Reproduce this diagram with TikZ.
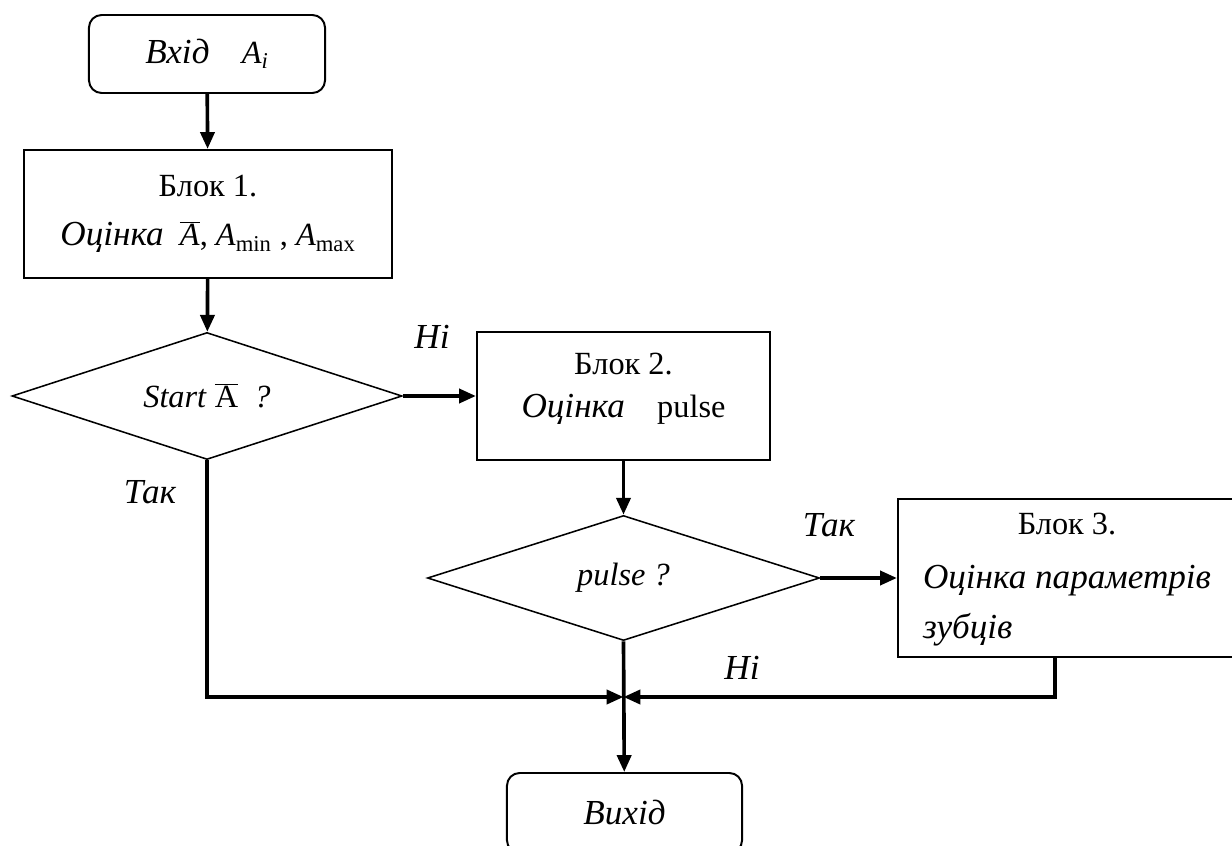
\documentclass[tikz,border=0pt]{standalone}
\usepackage{fontspec}
\setmainfont{Liberation Serif}
\usetikzlibrary{arrows.meta,positioning,calc,shapes.geometric}
\newcommand{\ukit}[1]{{\fontsize{25}{30}\selectfont\itshape #1}}

\begin{document}
\begin{tikzpicture}[x=0.025cm, y=-0.025cm,
  font=\fontsize{23}{29}\selectfont,
  term/.style={draw, line width=1.4pt, rounded corners=9pt, minimum width=5.9cm, minimum height=1.95cm},
  block/.style={draw, line width=1.5pt, align=center, inner sep=0pt},
  decision/.style={draw, diamond, line width=1.1pt, inner sep=0pt, aspect=3},
  flow/.style={line width=2.6pt, -{Triangle[length=12pt,width=10pt]}},
  lbl/.style={font=\fontsize{25}{30}\selectfont\itshape}]

  \clip (0,0) rectangle (1232,846);

  % Input
  \node[term] (start) at (207,54) {\ukit{Вхід}\quad\textit{A\textsubscript{i}}};

  % Block 1
  \node[block, minimum width=9.2cm, minimum height=3.2cm] (blk1) at (208,214)
    {Блок 1.\\[6pt] \ukit{Оцінка}\enspace $\overline{\mbox{\textit{A}}}$, \textit{A}\textsubscript{min} , \textit{A}\textsubscript{max}};

  % Start A ?
  \node[decision, minimum width=9.75cm, minimum height=3.175cm] (dec1) at (207,396)
    {\textit{Start} $\overline{\mbox{A}}$\enspace\textit{?}};

  % Block 2
  \node[block, minimum width=7.325cm, minimum height=3.2cm] (blk2) at (623.5,396)
    {Блок 2.\\[2pt] \ukit{Оцінка}\quad pulse\\[-14pt]\mbox{}};

  % pulse ?
  \node[decision, minimum width=9.8cm, minimum height=3.125cm] (dec2) at (623.5,578)
    {\textit{pulse ?}};

  % Block 3
  \node[block, minimum width=8.45cm, minimum height=3.95cm] (blk3) at (1067,578)
    {\begin{tabular}{@{}l@{}}
       \multicolumn{1}{@{}c@{}}{Блок 3.}\\[10pt]
       \ukit{Оцінка параметрів}\\[6pt]
       \ukit{зубців}
     \end{tabular}};

  % Output
  \node[term, minimum width=5.875cm, minimum height=2cm] (stop) at (624.5,813) {\ukit{Вихід}};

  % Labels
  \node[lbl] (no1) at (432,337) {Ні};
  \node[lbl] (yes1) at (150,492) {Так};
  \node[lbl] (yes2) at (829,525) {Так};
  \node[lbl] (no2) at (742,668) {Ні};

  % Connectors
  \coordinate (join) at (623.5,697);
  \draw[flow] (start) -- (blk1);
  \draw[flow] (blk1) -- (dec1);
  \draw[flow] (dec1.east) -- (blk2.west);
  \draw[flow] (blk2) -- (dec2);
  \draw[flow] (dec2.east) -- (blk3.west);
  \draw[flow] (dec1.south) |- (join);
  \draw[flow] ($(blk3.south)+(-12,0)$) |- (join);
  \draw[flow] (dec2.south) -- (stop);
\end{tikzpicture}
\end{document}
